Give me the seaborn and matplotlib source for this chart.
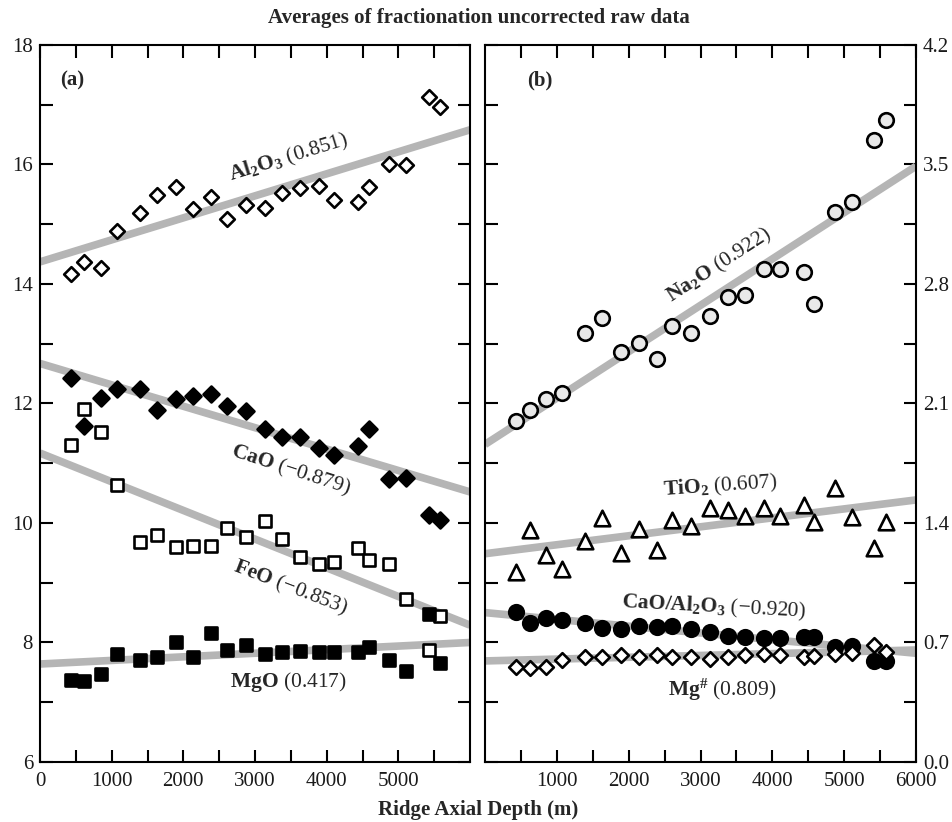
import numpy as np
import pandas as pd
import matplotlib
matplotlib.use("Agg")
import matplotlib.pyplot as plt
from matplotlib.ticker import FixedLocator, FormatStrFormatter
import seaborn as sns

# Ridge axial depth of each averaged bin (m)
depth = [430, 620, 855, 1078, 1390, 1632, 1893, 2137, 2390, 2608, 2874,
         3138, 3382, 3624, 3889, 4101, 4437, 4586, 4870, 5110, 5422, 5586]

# Panel (a): major oxides (wt%)
al2o3 = [14.17, 14.37, 14.26, 14.89, 15.19, 15.49, 15.62, 15.26, 15.46, 15.09, 15.32,
         15.27, 15.53, 15.60, 15.64, 15.41, 15.38, 15.63, 16.01, 15.99, 17.13, 16.96]
cao = [12.42, 11.63, 12.10, 12.24, 12.24, 11.89, 12.08, 12.13, 12.16, 11.96, 11.87,
       11.58, 11.44, 11.44, 11.26, 11.14, 11.29, 11.58, 10.74, 10.76, 10.13, 10.05]
feo = [11.31, 11.91, 11.53, 10.64, 9.69, 9.80, 9.59, 9.62, 9.62, 9.91, 9.77,
       10.04, 9.74, 9.43, 9.32, 9.35, 9.58, 9.38, 9.32, 8.72, 7.87, 8.45]
mgo = [7.38, 7.36, 7.47, 7.81, 7.70, 7.75, 8.01, 7.75, 8.16, 7.87, 7.96,
       7.80, 7.84, 7.86, 7.84, 7.84, 7.84, 7.92, 7.70, 7.52, 8.47, 7.66]

# Panel (b): minor oxides and ratios
na2o = [1.998, 2.062, 2.125, 2.160, 2.515, 2.603, 2.404, 2.453, 2.361, 2.554, 2.515,
        2.613, 2.722, 2.736, 2.886, 2.886, 2.869, 2.683, 3.220, 3.279, 3.644, 3.761]
tio2 = [1.115, 1.359, 1.213, 1.131, 1.295, 1.428, 1.223, 1.363, 1.242, 1.418, 1.382,
        1.486, 1.476, 1.443, 1.486, 1.443, 1.505, 1.404, 1.603, 1.437, 1.255, 1.404]
cao_al2o3 = [0.880, 0.812, 0.845, 0.832, 0.812, 0.783, 0.779, 0.799, 0.789, 0.799, 0.779,
             0.760, 0.740, 0.734, 0.728, 0.728, 0.734, 0.734, 0.675, 0.680, 0.592, 0.592]
mg_num = [0.558, 0.549, 0.558, 0.598, 0.617, 0.617, 0.627, 0.617, 0.627, 0.617, 0.613,
          0.601, 0.617, 0.627, 0.631, 0.627, 0.617, 0.623, 0.633, 0.637, 0.685, 0.646]

# Linear trends, evaluated at the ends of the depth axis
fit_depth = [0, 6000]
al2o3_fit = [14.37, 16.58]
cao_fit = [12.67, 10.52]
feo_fit = [11.17, 8.29]
mgo_fit = [7.64, 8.00]
na2o_fit = [1.86, 3.49]
tio2_fit = [1.22, 1.535]
cao_al2o3_fit = [0.875, 0.637]
mg_num_fit = [0.592, 0.656]

sns.set_theme(style="ticks")
plt.rcParams["font.family"] = ["Liberation Serif", "DejaVu Serif"]
plt.rcParams["mathtext.fontset"] = "custom"
plt.rcParams["mathtext.rm"] = "Liberation Serif"
plt.rcParams["mathtext.bf"] = "Liberation Serif:bold"
plt.rcParams["mathtext.it"] = "Liberation Serif:italic"
plt.rcParams["axes.linewidth"] = 1.5

df = pd.DataFrame({"depth": depth, "al2o3": al2o3, "cao": cao, "feo": feo, "mgo": mgo,
                   "na2o": na2o, "tio2": tio2, "cao_al2o3": cao_al2o3, "mg_num": mg_num})
fits = pd.DataFrame({"depth": fit_depth, "al2o3": al2o3_fit, "cao": cao_fit, "feo": feo_fit,
                     "mgo": mgo_fit, "na2o": na2o_fit, "tio2": tio2_fit,
                     "cao_al2o3": cao_al2o3_fit, "mg_num": mg_num_fit})

fig = plt.figure(figsize=(9.53, 8.22), dpi=100)
ax_a = fig.add_axes([0.0420, 0.0730, 0.4512, 0.8723])
ax_b = fig.add_axes([0.5089, 0.0730, 0.4523, 0.8723])

TREND = "#b5b5b5"
EDGE = "black"
MEW = 1.9


def trend(ax, col):
    sns.lineplot(data=fits, x="depth", y=col, ax=ax, color=TREND, linewidth=5.5,
                 zorder=1, solid_capstyle="butt")


def points(ax, col, marker, face, size):
    sns.scatterplot(data=df, x="depth", y=col, ax=ax, marker=marker, s=size,
                    facecolor=face, edgecolor=EDGE, linewidth=MEW, zorder=3)


# ---- panel (a)
for c in ["al2o3", "cao", "feo", "mgo"]:
    trend(ax_a, c)
points(ax_a, "al2o3", "D", "white", 56)
points(ax_a, "cao", "D", "black", 66)
points(ax_a, "feo", "s", "white", 64)
points(ax_a, "mgo", "s", "black", 70)

ax_a.set_xlim(0, 6000)
ax_a.set_ylim(6, 18)
ax_a.xaxis.set_major_locator(FixedLocator([0, 1000, 2000, 3000, 4000, 5000]))
ax_a.xaxis.set_minor_locator(FixedLocator([500, 1500, 2500, 3500, 4500, 5500]))
ax_a.yaxis.set_major_locator(FixedLocator([6, 8, 10, 12, 14, 16, 18]))
ax_a.yaxis.set_minor_locator(FixedLocator([7, 9, 11, 13, 15, 17]))

tfs = 15.5
ax_a.text(3466, 16.11, r"$\mathbf{Al_2O_3}$ (0.851)", fontsize=tfs, rotation=17,
          ha="center", va="center", rotation_mode="anchor")
ax_a.text(3497, 10.89, r"$\mathbf{CaO}$ (−0.879)", fontsize=tfs, rotation=-18,
          ha="center", va="center", rotation_mode="anchor")
ax_a.text(3497, 8.91, r"$\mathbf{FeO}$ (−0.853)", fontsize=tfs, rotation=-21,
          ha="center", va="center", rotation_mode="anchor")
ax_a.text(3466, 7.34, r"$\mathbf{MgO}$ (0.417)", fontsize=tfs, rotation=0,
          ha="center", va="center")
ax_a.text(0.074, 0.951, "(a)", transform=ax_a.transAxes, fontsize=15,
          fontweight="bold", ha="center", va="center")

# ---- panel (b)
for c in ["na2o", "tio2", "cao_al2o3", "mg_num"]:
    trend(ax_b, c)
points(ax_b, "na2o", "o", "#e9e9e9", 110)
points(ax_b, "tio2", "^", "white", 125)
points(ax_b, "cao_al2o3", "o", "black", 110)
points(ax_b, "mg_num", "D", "white", 56)

ax_b.set_xlim(0, 6000)
ax_b.set_ylim(0, 4.2)
ax_b.xaxis.set_major_locator(FixedLocator([1000, 2000, 3000, 4000, 5000, 6000]))
ax_b.xaxis.set_minor_locator(FixedLocator([500, 1500, 2500, 3500, 4500, 5500]))
ax_b.yaxis.set_major_locator(FixedLocator([0.0, 0.7, 1.4, 2.1, 2.8, 3.5, 4.2]))
ax_b.yaxis.set_minor_locator(FixedLocator([0.35, 1.05, 1.75, 2.45, 3.15, 3.85]))
ax_b.yaxis.set_major_formatter(FormatStrFormatter("%.1f"))

ax_b.text(3266, 2.91, r"$\mathbf{Na_2O}$ (0.922)", fontsize=tfs, rotation=33,
          ha="center", va="center", rotation_mode="anchor")
ax_b.text(3272, 1.611, r"$\mathbf{TiO_2}$ (0.607)", fontsize=tfs, rotation=4,
          ha="center", va="center", rotation_mode="anchor")
ax_b.text(3188, 0.908, r"$\mathbf{CaO/Al_2O_3}$ (−0.920)", fontsize=tfs, rotation=-3,
          ha="center", va="center", rotation_mode="anchor")
ax_b.text(3300, 0.42, r"$\mathbf{Mg^{\#}}$ (0.809)", fontsize=tfs,
          ha="center", va="center")
ax_b.text(0.128, 0.951, "(b)", transform=ax_b.transAxes, fontsize=15,
          fontweight="bold", ha="center", va="center")

for ax in (ax_a, ax_b):
    ax.set_xlabel("")
    ax.set_ylabel("")
    for sp in ax.spines.values():
        sp.set_visible(True)
        sp.set_linewidth(1.5)
        sp.set_color("black")
    ax.tick_params(which="both", direction="in", top=True, bottom=True,
                   left=True, right=True, length=9, width=1.5, color="black",
                   labelsize=15, labelcolor="#1a1a1a")
    ax.tick_params(axis="x", pad=7)
    ax.tick_params(axis="y", pad=5)

ax_a.tick_params(labelleft=True, labelright=False)
ax_b.tick_params(labelleft=False, labelright=True)

fig.text(0.5026, 0.978, "Averages of fractionation uncorrected raw data",
         fontsize=15, fontweight="bold", ha="center", va="center")
fig.text(0.5016, 0.0146, "Ridge Axial Depth (m)", fontsize=15,
         fontweight="bold", ha="center", va="center")

fig.savefig("out.png", dpi=100, facecolor="white")
